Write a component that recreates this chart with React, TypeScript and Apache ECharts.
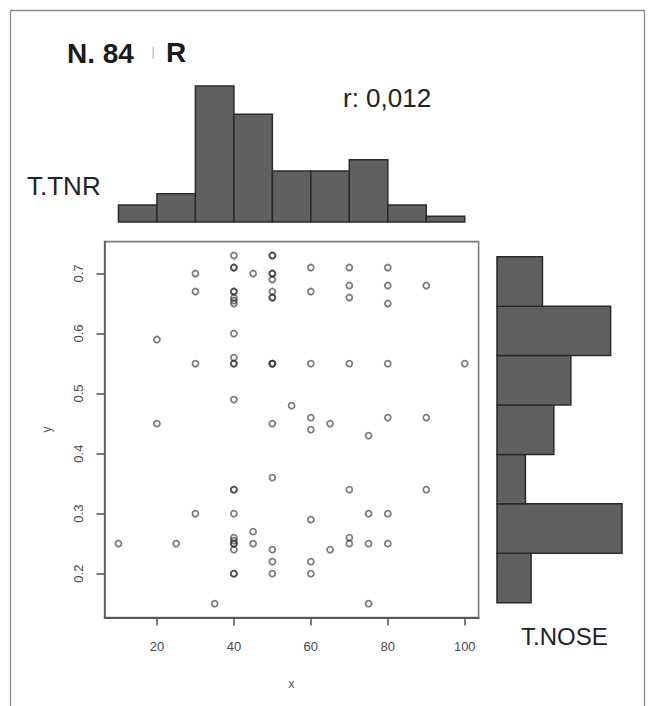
import React, { useEffect, useRef } from "react";
import * as echarts from "echarts";

// T.TNR (x) and T.NOSE (y) values, N = 84, grouped by x value
const tnrValues = [
  10,
  20, 20,
  25,
  30, 30, 30, 30,
  35,
  40, 40, 40, 40, 40, 40, 40, 40, 40, 40, 40, 40, 40, 40, 40, 40, 40, 40, 40, 40, 40, 40, 40,
  45, 45, 45,
  50, 50, 50, 50, 50, 50, 50, 50, 50, 50, 50, 50, 50, 50, 50, 50,
  55,
  60, 60, 60, 60, 60, 60, 60, 60,
  65, 65,
  70, 70, 70, 70, 70, 70, 70,
  75, 75, 75, 75,
  80, 80, 80, 80, 80, 80, 80,
  90, 90, 90,
  100,
];
const noseValues = [
  0.25,
  0.59, 0.45,
  0.25,
  0.70, 0.67, 0.55, 0.30,
  0.15,
  0.73, 0.71, 0.71, 0.67, 0.67, 0.66, 0.655, 0.65, 0.60, 0.56, 0.55, 0.55, 0.49, 0.34, 0.34, 0.30, 0.26, 0.255, 0.25, 0.25, 0.24, 0.20, 0.20,
  0.70, 0.27, 0.25,
  0.73, 0.73, 0.70, 0.70, 0.69, 0.67, 0.66, 0.66, 0.55, 0.55, 0.55, 0.45, 0.36, 0.24, 0.22, 0.20,
  0.48,
  0.71, 0.67, 0.55, 0.46, 0.44, 0.29, 0.22, 0.20,
  0.45, 0.24,
  0.71, 0.68, 0.66, 0.55, 0.34, 0.26, 0.25,
  0.43, 0.30, 0.25, 0.15,
  0.71, 0.68, 0.65, 0.55, 0.46, 0.30, 0.25,
  0.68, 0.46, 0.34,
  0.55,
];

const xTickValues = [20, 40, 60, 80, 100];
const yTickValues = [0.2, 0.3, 0.4, 0.5, 0.6, 0.7];
const tnrBreaks = [10, 20, 30, 40, 50, 60, 70, 80, 90, 100];
const noseBreaks = [0.1, 0.2, 0.3, 0.4, 0.5, 0.6, 0.7, 0.8];

const titleText = "N. 84";
const titleLetter = "R";
const corrText = "r: 0,012";
const xHistLabel = "T.TNR";
const yHistLabel = "T.NOSE";

// R-style histogram: right-closed bins, lowest included
function histCounts(values: number[], breaks: number[]): number[] {
  const scale = 1000;
  const b = breaks.map((v) => Math.round(v * scale));
  const counts = new Array(breaks.length - 1).fill(0);
  values.forEach((v) => {
    const iv = Math.round(v * scale);
    for (let i = 0; i < b.length - 1; i++) {
      const inBin = i === 0 ? iv >= b[0] && iv <= b[1] : iv > b[i] && iv <= b[i + 1];
      if (inBin) {
        counts[i]++;
        break;
      }
    }
  });
  return counts;
}

function extendRange(values: number[]): [number, number] {
  const lo = Math.min(...values);
  const hi = Math.max(...values);
  const pad = (hi - lo) * 0.04;
  return [lo - pad, hi + pad];
}

const FONT = "'Liberation Sans', Arial, Helvetica, sans-serif";

export default function App() {
  const ref = useRef<HTMLDivElement>(null);

  useEffect(() => {
    if (!ref.current) return;
    const chart = echarts.init(ref.current, undefined, { renderer: "svg" });

    const [xMin, xMax] = extendRange(tnrValues);
    const [yMin, yMax] = extendRange(noseValues);
    const tnrCounts = histCounts(tnrValues, tnrBreaks);
    const noseCounts = histCounts(noseValues, noseBreaks);
    const topData = tnrCounts.map((c, i) => [tnrBreaks[i], tnrBreaks[i + 1], c]);
    const rightData = noseCounts.map((c, i) => [noseBreaks[i], noseBreaks[i + 1], c]);
    const scatterData = tnrValues.map((x, i) => [x, noseValues[i]]);

    const barStyle = { fill: "#606060", stroke: "#2a2a2a", lineWidth: 1.5 };
    const txt = (text: string, x: number, y: number, size: number, bold = false, fill = "#222") => ({
      type: "text",
      x,
      y,
      style: {
        text,
        fill,
        fontSize: size,
        fontWeight: bold ? "bold" : "normal",
        fontFamily: FONT,
        align: "left",
        verticalAlign: "middle",
        textAlign: "left",
        textVerticalAlign: "middle",
      },
    });

    const option: any = {
      animation: false,
      backgroundColor: "#ffffff",
      grid: [
        {
          left: 104.6,
          top: 241.6,
          width: 374,
          height: 376,
          show: true,
          borderColor: "#7a7a7a",
          borderWidth: 1.6,
          backgroundColor: "transparent",
        },
        { left: 104.6, top: 86, width: 374, height: 136 },
        { left: 497, top: 256.7, width: 125, height: 346 },
      ],
      xAxis: [
        {
          gridIndex: 0,
          type: "value",
          min: xMin,
          max: xMax,
          splitLine: { show: false },
          axisLine: { show: true, lineStyle: { color: "#5a5a5a", width: 2 } },
          axisTick: {
            show: true,
            customValues: xTickValues,
            length: 8,
            lineStyle: { color: "#5a5a5a", width: 1.6 },
          },
          axisLabel: {
            customValues: xTickValues,
            margin: 22,
            fontSize: 13,
            color: "#4a4a4a",
            fontFamily: FONT,
          },
          name: "x",
          nameLocation: "middle",
          nameGap: 60,
          nameTextStyle: { fontSize: 12, color: "#555", fontFamily: FONT },
        },
        { gridIndex: 1, type: "value", min: xMin, max: xMax, show: false },
        { gridIndex: 2, type: "value", min: 0, max: 22, show: false },
      ],
      yAxis: [
        {
          gridIndex: 0,
          type: "value",
          min: yMin,
          max: yMax,
          splitLine: { show: false },
          axisLine: { show: true, lineStyle: { color: "#5a5a5a", width: 1.6 } },
          axisTick: {
            show: true,
            customValues: yTickValues,
            length: 8,
            lineStyle: { color: "#5a5a5a", width: 1.6 },
          },
          axisLabel: {
            customValues: yTickValues,
            rotate: 90,
            margin: 20,
            fontSize: 13,
            color: "#4a4a4a",
            fontFamily: FONT,
            formatter: (v: number) => v.toFixed(1),
          },
          name: "y",
          nameLocation: "middle",
          nameGap: 52,
          nameRotate: 90,
          nameTextStyle: { fontSize: 12, color: "#555", fontFamily: FONT },
        },
        { gridIndex: 1, type: "value", min: 0, max: 24, show: false },
        { gridIndex: 2, type: "value", min: 0.1, max: 0.8, show: false },
      ],
      series: [
        {
          type: "scatter",
          xAxisIndex: 0,
          yAxisIndex: 0,
          data: scatterData,
          symbol: "circle",
          symbolSize: 6,
          itemStyle: {
            color: "rgba(0,0,0,0)",
            borderColor: "rgba(50,50,50,0.8)",
            borderWidth: 1.8,
          },
          emphasis: { disabled: true },
        },
        {
          type: "custom",
          xAxisIndex: 1,
          yAxisIndex: 1,
          data: topData,
          encode: { x: [0, 1], y: 2 },
          renderItem: (params: any, api: any) => {
            const p0 = api.coord([api.value(0), api.value(2)]);
            const p1 = api.coord([api.value(1), 0]);
            return {
              type: "rect",
              shape: { x: p0[0], y: p0[1], width: p1[0] - p0[0], height: p1[1] - p0[1] },
              style: barStyle,
            };
          },
        },
        {
          type: "custom",
          xAxisIndex: 2,
          yAxisIndex: 2,
          data: rightData,
          encode: { x: 2, y: [0, 1] },
          renderItem: (params: any, api: any) => {
            const p0 = api.coord([0, api.value(1)]);
            const p1 = api.coord([api.value(2), api.value(0)]);
            return {
              type: "rect",
              shape: { x: p0[0], y: p0[1], width: p1[0] - p0[0], height: p1[1] - p0[1] },
              style: barStyle,
            };
          },
        },
      ],
      graphic: [
        {
          type: "rect",
          silent: true,
          shape: { x: 10.5, y: 10.5, width: 634, height: 730 },
          style: { fill: "none", stroke: "#8c8c8c", lineWidth: 1.3 },
        },
        txt(titleText, 67, 53, 28, true, "#1a1a1a"),
        {
          type: "rect",
          silent: true,
          shape: { x: 152.5, y: 47, width: 1.5, height: 12 },
          style: { fill: "#c8c8c8" },
        },
        txt(titleLetter, 166, 52, 28, true, "#1a1a1a"),
        txt(corrText, 343, 98, 26),
        txt(xHistLabel, 27, 186, 26),
        txt(yHistLabel, 521, 636, 24),
      ],
    };

    chart.setOption(option);
    return () => chart.dispose();
  }, []);

  return (
    <div
      ref={ref}
      style={{ position: "absolute", left: 0, top: 0, width: 657, height: 706 }}
    />
  );
}
